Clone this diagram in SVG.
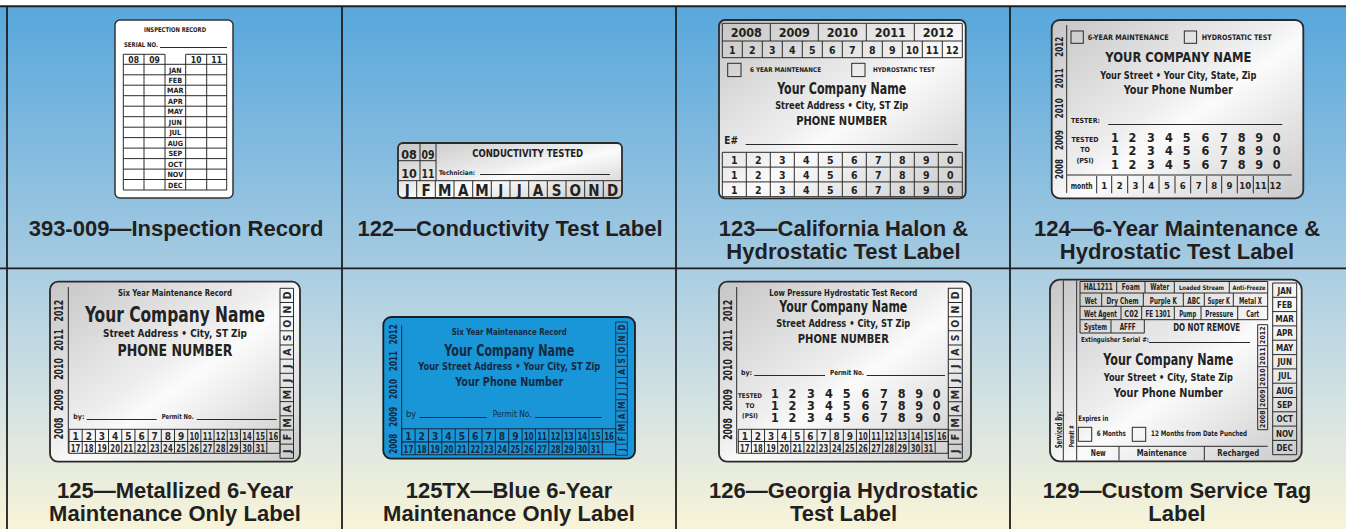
<svg xmlns="http://www.w3.org/2000/svg" width="1346" height="529" viewBox="0 0 1346 529">
<defs>
<linearGradient id="bgTop" x1="0" y1="0" x2="0" y2="1"><stop offset="0" stop-color="#56a6dc"/><stop offset="1" stop-color="#a6cbe1"/></linearGradient>
<linearGradient id="bgBot" x1="0" y1="0" x2="0" y2="1"><stop offset="0" stop-color="#a9cde3"/><stop offset="0.55" stop-color="#d6e3e2"/><stop offset="1" stop-color="#f8f4d8"/></linearGradient>
<linearGradient id="silver" x1="0" y1="0" x2="1" y2="1"><stop offset="0" stop-color="#c6c6c6"/><stop offset="0.45" stop-color="#eeeeee"/><stop offset="0.55" stop-color="#fbfbfb"/><stop offset="1" stop-color="#c9c9c9"/></linearGradient>
<style>
.bd{stroke:#2a2a2a;stroke-width:1.8}
.sv{fill:url(#silver)}
.ln{fill:none;stroke:#2a2a2a;stroke-width:1}
.t{font-family:"Liberation Sans Narrow","DejaVu Sans Condensed","Liberation Sans",sans-serif;font-weight:bold;fill:#222}
.c{text-anchor:middle}
.cap{font-family:"Liberation Sans",Arial,sans-serif;font-weight:bold;font-size:22px;fill:#231f20;text-anchor:middle}
.cell{fill:none;stroke:#1f1f1f;stroke-width:1.8}
</style>
<g id="daygrid">
<path fill="none" stroke="currentColor" stroke-width="1" d="M0 0H211V24H0Z M0 12.2H211 M13.19 0V24M26.38 0V24M39.56 0V24M52.75 0V24M65.94 0V24M79.13 0V24M92.31 0V24M105.5 0V24M118.69 0V24M131.88 0V24M145.06 0V24M158.25 0V24M171.44 0V24M184.63 0V24M197.81 0V24"/>
<g font-family="'Liberation Sans Narrow','DejaVu Sans Condensed','Liberation Sans',sans-serif" font-weight="bold" font-size="10" text-anchor="middle" fill="currentColor">
<text x="6.59" y="10.4">1</text><text x="19.78" y="10.4">2</text><text x="32.97" y="10.4">3</text><text x="46.16" y="10.4">4</text><text x="59.34" y="10.4">5</text><text x="72.53" y="10.4">6</text><text x="85.72" y="10.4">7</text><text x="98.91" y="10.4">8</text><text x="112.09" y="10.4">9</text><text x="125.28" y="10.4" textLength="9.6" lengthAdjust="spacingAndGlyphs">10</text><text x="138.47" y="10.4" textLength="9.6" lengthAdjust="spacingAndGlyphs">11</text><text x="151.66" y="10.4" textLength="9.6" lengthAdjust="spacingAndGlyphs">12</text><text x="164.84" y="10.4" textLength="9.6" lengthAdjust="spacingAndGlyphs">13</text><text x="178.03" y="10.4" textLength="9.6" lengthAdjust="spacingAndGlyphs">14</text><text x="191.22" y="10.4" textLength="9.6" lengthAdjust="spacingAndGlyphs">15</text><text x="204.41" y="10.4" textLength="9.6" lengthAdjust="spacingAndGlyphs">16</text>
<text x="6.59" y="22.4" textLength="9.6" lengthAdjust="spacingAndGlyphs">17</text><text x="19.78" y="22.4" textLength="9.6" lengthAdjust="spacingAndGlyphs">18</text><text x="32.97" y="22.4" textLength="9.6" lengthAdjust="spacingAndGlyphs">19</text><text x="46.16" y="22.4" textLength="9.6" lengthAdjust="spacingAndGlyphs">20</text><text x="59.34" y="22.4" textLength="9.6" lengthAdjust="spacingAndGlyphs">21</text><text x="72.53" y="22.4" textLength="9.6" lengthAdjust="spacingAndGlyphs">22</text><text x="85.72" y="22.4" textLength="9.6" lengthAdjust="spacingAndGlyphs">23</text><text x="98.91" y="22.4" textLength="9.6" lengthAdjust="spacingAndGlyphs">24</text><text x="112.09" y="22.4" textLength="9.6" lengthAdjust="spacingAndGlyphs">25</text><text x="125.28" y="22.4" textLength="9.6" lengthAdjust="spacingAndGlyphs">26</text><text x="138.47" y="22.4" textLength="9.6" lengthAdjust="spacingAndGlyphs">27</text><text x="151.66" y="22.4" textLength="9.6" lengthAdjust="spacingAndGlyphs">28</text><text x="164.84" y="22.4" textLength="9.6" lengthAdjust="spacingAndGlyphs">29</text><text x="178.03" y="22.4" textLength="9.6" lengthAdjust="spacingAndGlyphs">30</text><text x="191.22" y="22.4" textLength="9.6" lengthAdjust="spacingAndGlyphs">31</text>
</g>
</g>
<g id="mcol">
<path fill="none" stroke="currentColor" stroke-width="1" d="M0 0H13.5V170H0Z M0 14.17H13.5M0 28.33H13.5M0 42.5H13.5M0 56.67H13.5M0 70.83H13.5M0 85H13.5M0 99.17H13.5M0 113.33H13.5M0 127.5H13.5M0 141.67H13.5M0 155.83H13.5"/>
<g font-family="'Liberation Sans Narrow','DejaVu Sans Condensed','Liberation Sans',sans-serif" font-weight="bold" font-size="10.5" text-anchor="middle" fill="currentColor">
<text transform="translate(10.5 7.08) rotate(-90)">D</text><text transform="translate(10.5 21.25) rotate(-90)">N</text><text transform="translate(10.5 35.42) rotate(-90)">O</text><text transform="translate(10.5 49.58) rotate(-90)">S</text><text transform="translate(10.5 63.75) rotate(-90)">A</text><text transform="translate(10.5 77.92) rotate(-90)">J</text><text transform="translate(10.5 92.08) rotate(-90)">J</text><text transform="translate(10.5 106.25) rotate(-90)">M</text><text transform="translate(10.5 120.42) rotate(-90)">A</text><text transform="translate(10.5 134.58) rotate(-90)">M</text><text transform="translate(10.5 148.75) rotate(-90)">F</text><text transform="translate(10.5 162.92) rotate(-90)">J</text>
</g>
</g>
<g id="dig" class="t c" font-size="12.5">
<text x="0">1</text><text x="17.5">2</text><text x="35.85">3</text><text x="54">4</text><text x="71.7">5</text><text x="90.35">6</text><text x="108.8">7</text><text x="126.65">8</text><text x="144.15">9</text><text x="161.7">0</text>
</g>
<g id="dig3" class="t c" font-size="10.5">
<text x="0">1</text><text x="24">2</text><text x="48">3</text><text x="72">4</text><text x="96">5</text><text x="120">6</text><text x="144">7</text><text x="168">8</text><text x="192">9</text><text x="216">0</text>
</g>
</defs>

<!-- background -->
<rect x="0" y="0" width="1346" height="268" fill="url(#bgTop)"/>
<rect x="0" y="268" width="1346" height="261" fill="url(#bgBot)"/>
<rect x="0" y="0" width="1346" height="5" fill="#ffffff"/>
<g id="frame" class="cell">
<path d="M0 6.3H1346 M7 6.3V529 M342 6.3V529 M676 6.3V529 M1010 6.3V529 M0 268.3H1346"/>
</g>

<!-- 393-009 -->
<g id="n393">
<rect x="115" y="20" width="118" height="178" rx="5" fill="#ffffff" stroke="#333" stroke-width="1.5"/>
<text class="t c" x="175" y="32" font-size="6.5" textLength="62" lengthAdjust="spacingAndGlyphs">INSPECTION RECORD</text>
<text class="t" x="124" y="47" font-size="6.5" textLength="34" lengthAdjust="spacingAndGlyphs">SERIAL NO.</text>
<path class="ln" d="M160 47.5H227"/>
<path class="ln" d="M123.3 54.3H165M185.7 54.3H226.7 M123.3 64.3H226.7 M123.3 74.8H226.7 M123.3 85.2H226.7 M123.3 95.7H226.7 M123.3 106.2H226.7 M123.3 116.7H226.7 M123.3 127.2H226.7 M123.3 137.6H226.7 M123.3 148.1H226.7 M123.3 158.6H226.7 M123.3 169.1H226.7 M123.3 179.5H226.7 M123.3 190H226.7 M123.3 54.3V190M144 54.3V190M165 54.3V190M185.7 54.3V190M206.7 54.3V190M226.7 54.3V190"/>
<g class="t c" font-size="8.5">
<text x="133.7" y="62.8">08</text><text x="154.5" y="62.8">09</text><text x="196.2" y="62.8">10</text><text x="216.7" y="62.8">11</text>
</g>
<g class="t c" font-size="7.2">
<text x="175.3" y="72.5">JAN</text><text x="175.3" y="83">FEB</text><text x="175.3" y="93.4">MAR</text><text x="175.3" y="103.9">APR</text><text x="175.3" y="114.4">MAY</text><text x="175.3" y="124.9">JUN</text><text x="175.3" y="135.4">JUL</text><text x="175.3" y="145.8">AUG</text><text x="175.3" y="156.3">SEP</text><text x="175.3" y="166.8">OCT</text><text x="175.3" y="177.3">NOV</text><text x="175.3" y="187.7">DEC</text>
</g>
</g>

<!-- 122 -->
<g id="n122">
<rect class="sv bd" x="398" y="143" width="224" height="55" rx="5"/>
<path class="ln" d="M420 143V180.7 M436 143V180.7 M398 160.7H436 M398 180.7H622 M416.7 180.7V198 M435.3 180.7V198 M454 180.7V198 M472.7 180.7V198 M491.3 180.7V198 M510 180.7V198 M528.7 180.7V198 M547.3 180.7V198 M566 180.7V198 M584.7 180.7V198 M603.3 180.7V198"/>
<g class="t c" font-size="12.5">
<text x="409" y="158.5">08</text><text x="428" y="158.5" textLength="13" lengthAdjust="spacingAndGlyphs">09</text><text x="409" y="178">10</text><text x="428" y="178" textLength="13" lengthAdjust="spacingAndGlyphs">11</text>
</g>
<text class="t c" x="527.7" y="157" font-size="11" textLength="111" lengthAdjust="spacingAndGlyphs">CONDUCTIVITY TESTED</text>
<text class="t" x="439" y="175" font-size="6.5" textLength="36" lengthAdjust="spacingAndGlyphs">Technician:</text>
<path class="ln" d="M480 174.5H610"/>
<g class="t c" font-size="15">
<text x="407.3" y="195.5">J</text><text x="426" y="195.5">F</text><text x="444.7" y="195.5">M</text><text x="463.3" y="195.5">A</text><text x="482" y="195.5">M</text><text x="500.7" y="195.5">J</text><text x="519.3" y="195.5">J</text><text x="538" y="195.5">A</text><text x="556.7" y="195.5">S</text><text x="575.3" y="195.5">O</text><text x="594" y="195.5">N</text><text x="612.7" y="195.5">D</text>
</g>
</g>

<!-- 123 -->
<g id="n123">
<rect class="sv bd" x="719" y="20" width="246.7" height="178.3" rx="6"/>
<path class="ln" d="M722.3 23.3H962.3V57.7H722.3Z M722.3 41H962.3 M770.3 23.3V41 M818.3 23.3V41 M866.3 23.3V41 M914.3 23.3V41 M742.3 41V57.7 M762.3 41V57.7 M782.3 41V57.7 M802.3 41V57.7 M822.3 41V57.7 M842.3 41V57.7 M862.3 41V57.7 M882.3 41V57.7 M902.3 41V57.7 M922.3 41V57.7 M942.3 41V57.7"/>
<g class="t c" font-size="12.5">
<text x="746.3" y="36.8">2008</text><text x="794.3" y="36.8">2009</text><text x="842.3" y="36.8">2010</text><text x="890.3" y="36.8">2011</text><text x="938.3" y="36.8">2012</text>
</g>
<g class="t c" font-size="10.5">
<text x="732.3" y="53.8">1</text><text x="752.3" y="53.8">2</text><text x="772.3" y="53.8">3</text><text x="792.3" y="53.8">4</text><text x="812.3" y="53.8">5</text><text x="832.3" y="53.8">6</text><text x="852.3" y="53.8">7</text><text x="872.3" y="53.8">8</text><text x="892.3" y="53.8">9</text><text x="912.3" y="53.8">10</text><text x="932.3" y="53.8">11</text><text x="952.3" y="53.8">12</text>
</g>
<rect class="ln" x="727.7" y="63.3" width="13.3" height="13.3"/>
<text class="t" x="750" y="72.3" font-size="6.5" textLength="71" lengthAdjust="spacingAndGlyphs">6 YEAR MAINTENANCE</text>
<rect class="ln" x="851.7" y="63.3" width="13.3" height="13.3"/>
<text class="t" x="873" y="72.3" font-size="6.5" textLength="62" lengthAdjust="spacingAndGlyphs">HYDROSTATIC TEST</text>
<text class="t c" x="841.7" y="94.3" font-size="15.5" textLength="129" lengthAdjust="spacingAndGlyphs">Your Company Name</text>
<text class="t c" x="841.7" y="109.3" font-size="10.5" textLength="133" lengthAdjust="spacingAndGlyphs">Street Address • City, ST Zip</text>
<text class="t c" x="841.7" y="125" font-size="12.5" textLength="91" lengthAdjust="spacingAndGlyphs">PHONE NUMBER</text>
<text class="t" x="724.3" y="144.3" font-size="10">E#</text>
<path class="ln" d="M745.7 144.5H957.7"/>
<path class="ln" d="M722.3 152.3H962.3V196.7H722.3Z M722.3 167.1H962.3 M722.3 181.9H962.3 M746.3 152.3V196.7M770.3 152.3V196.7M794.3 152.3V196.7M818.3 152.3V196.7M842.3 152.3V196.7M866.3 152.3V196.7M890.3 152.3V196.7M914.3 152.3V196.7M938.3 152.3V196.7"/>
<use href="#dig3" x="734.3" y="164"/>
<use href="#dig3" x="734.3" y="178.8"/>
<use href="#dig3" x="734.3" y="193.6"/>
</g>

<!-- 124 -->
<g id="n124">
<rect class="sv bd" x="1051.7" y="20" width="251.6" height="178.3" rx="8"/>
<path class="ln" d="M1066.7 25V193 M1066.7 175H1291.7 M1096.7 176V193.3M1111.7 176V193.3M1127.7 176V193.3M1143.3 176V193.3M1159 176V193.3M1175 176V193.3M1190.7 176V193.3M1206.7 176V193.3M1221.7 176V193.3M1237.3 176V193.3M1253.3 176V193.3M1268.3 176V193.3 M1108.3 124.5H1282.3"/>
<g class="t c" font-size="11">
<text transform="translate(1063.3 46.7) rotate(-90)" textLength="20" lengthAdjust="spacingAndGlyphs">2012</text>
<text transform="translate(1063.3 78.3) rotate(-90)" textLength="20" lengthAdjust="spacingAndGlyphs">2011</text>
<text transform="translate(1063.3 108.3) rotate(-90)" textLength="20" lengthAdjust="spacingAndGlyphs">2010</text>
<text transform="translate(1063.3 140) rotate(-90)" textLength="20" lengthAdjust="spacingAndGlyphs">2009</text>
<text transform="translate(1063.3 169) rotate(-90)" textLength="20" lengthAdjust="spacingAndGlyphs">2008</text>
</g>
<rect class="ln" x="1071" y="31" width="12.3" height="12.3"/>
<text class="t" x="1087.7" y="40" font-size="7.5" textLength="81" lengthAdjust="spacingAndGlyphs">6-YEAR MAINTENANCE</text>
<rect class="ln" x="1184.3" y="31" width="12.3" height="12.3"/>
<text class="t" x="1201.7" y="40" font-size="7.5" textLength="70" lengthAdjust="spacingAndGlyphs">HYDROSTATIC TEST</text>
<text class="t c" x="1178.3" y="61.7" font-size="14.5" textLength="146" lengthAdjust="spacingAndGlyphs">YOUR COMPANY NAME</text>
<text class="t c" x="1178.3" y="79.3" font-size="10.5" textLength="156" lengthAdjust="spacingAndGlyphs">Your Street • Your City, State, Zip</text>
<text class="t c" x="1178.3" y="94.3" font-size="12.5" textLength="109" lengthAdjust="spacingAndGlyphs">Your Phone Number</text>
<text class="t" x="1071" y="123.3" font-size="7" textLength="29" lengthAdjust="spacingAndGlyphs">TESTER:</text>
<g class="t c" font-size="7">
<text x="1085" y="141.7" textLength="27" lengthAdjust="spacingAndGlyphs">TESTED</text><text x="1085" y="152.3">TO</text><text x="1085" y="162.7">(PSI)</text>
</g>
<use href="#dig" x="1115" y="141.7"/>
<use href="#dig" x="1115" y="155"/>
<use href="#dig" x="1115" y="169.3"/>
<g class="t c" font-size="9.5">
<text x="1081.7" y="189" font-size="8" textLength="22" lengthAdjust="spacingAndGlyphs">month</text>
<text x="1104.2" y="189">1</text><text x="1119.7" y="189">2</text><text x="1135.5" y="189">3</text><text x="1151.2" y="189">4</text><text x="1167" y="189">5</text><text x="1182.8" y="189">6</text><text x="1198.7" y="189">7</text><text x="1214.2" y="189">8</text><text x="1229.5" y="189">9</text><text x="1245.3" y="189">10</text><text x="1260.8" y="189">11</text><text x="1275.5" y="189">12</text>
</g>
</g>

<!-- 125 -->
<g id="n125">
<rect class="sv bd" x="50" y="281.7" width="250" height="180" rx="8"/>
<path class="ln" d="M68.3 287V453.3 M86.7 419.5H156.7 M196.7 419.5H276.7"/>
<g class="t c" font-size="12.5">
<text transform="translate(63.3 310.7) rotate(-90)" textLength="21.7" lengthAdjust="spacingAndGlyphs">2012</text>
<text transform="translate(63.3 340) rotate(-90)" textLength="21.7" lengthAdjust="spacingAndGlyphs">2011</text>
<text transform="translate(63.3 369) rotate(-90)" textLength="21.7" lengthAdjust="spacingAndGlyphs">2010</text>
<text transform="translate(63.3 400) rotate(-90)" textLength="21.7" lengthAdjust="spacingAndGlyphs">2009</text>
<text transform="translate(63.3 428.3) rotate(-90)" textLength="21.7" lengthAdjust="spacingAndGlyphs">2008</text>
</g>
<text class="t c" x="175" y="296" font-size="8" textLength="114" lengthAdjust="spacingAndGlyphs">Six Year Maintenance Record</text>
<text class="t c" x="175" y="321.7" font-size="22" textLength="180" lengthAdjust="spacingAndGlyphs">Your Company Name</text>
<text class="t c" x="175" y="337.3" font-size="11" textLength="144" lengthAdjust="spacingAndGlyphs">Street Address • City, ST Zip</text>
<text class="t c" x="175" y="356" font-size="15" textLength="115" lengthAdjust="spacingAndGlyphs">PHONE NUMBER</text>
<text class="t" x="73.3" y="419.3" font-size="7">by:</text>
<text class="t" x="161.7" y="419.3" font-size="7" textLength="32" lengthAdjust="spacingAndGlyphs">Permit No.</text>
<use href="#daygrid" x="69" y="429.3" color="#2a2a2a"/>
<use href="#mcol" x="280" y="288.3" color="#2a2a2a"/>
</g>

<!-- 125TX -->
<g id="n125tx">
<rect x="383.3" y="317" width="251.7" height="141.7" rx="8" fill="#1896d7" stroke="#1d1d1d" stroke-width="1.8"/>
<path fill="none" stroke="#17304d" stroke-width="1" d="M401.7 325.3V455.3 M419.3 417.5H486.7 M535 417.5H601.7"/>
<g class="t c" font-size="11" style="fill:#17283f">
<text transform="translate(396.7 334.3) rotate(-90)" textLength="20" lengthAdjust="spacingAndGlyphs">2012</text>
<text transform="translate(396.7 361) rotate(-90)" textLength="20" lengthAdjust="spacingAndGlyphs">2011</text>
<text transform="translate(396.7 389) rotate(-90)" textLength="20" lengthAdjust="spacingAndGlyphs">2010</text>
<text transform="translate(396.7 416.7) rotate(-90)" textLength="20" lengthAdjust="spacingAndGlyphs">2009</text>
<text transform="translate(396.7 443.7) rotate(-90)" textLength="20" lengthAdjust="spacingAndGlyphs">2008</text>
</g>
<g class="t c" style="fill:#17283f">
<text x="509.3" y="335.3" font-size="8" textLength="115" lengthAdjust="spacingAndGlyphs">Six Year Maintenance Record</text>
<text x="509.3" y="356" font-size="15" textLength="130" lengthAdjust="spacingAndGlyphs">Your Company Name</text>
<text x="509.3" y="370.3" font-size="10.5" textLength="182" lengthAdjust="spacingAndGlyphs">Your Street Address • Your City, ST Zip</text>
<text x="509.3" y="386" font-size="12.5" textLength="108" lengthAdjust="spacingAndGlyphs">Your Phone Number</text>
</g>
<text x="406" y="417" font-size="9" font-family="'Liberation Sans Narrow','DejaVu Sans Condensed','Liberation Sans',sans-serif" fill="#17283f">by</text>
<text x="492.7" y="417" font-size="9" font-family="'Liberation Sans Narrow','DejaVu Sans Condensed','Liberation Sans',sans-serif" fill="#17283f" textLength="39" lengthAdjust="spacingAndGlyphs">Permit No.</text>
<use href="#daygrid" transform="translate(401.7 428.7) scale(1.0142 1.0833)" color="#17283f"/>
<use href="#mcol" transform="translate(615.7 322) scale(0.859 0.784)" color="#17283f"/>
</g>

<!-- 126 -->
<g id="n126">
<rect class="sv bd" x="719" y="281.7" width="252" height="180" rx="8"/>
<path class="ln" d="M736.7 287V453.3 M754.3 375.5H825 M866.7 375.5H945"/>
<g class="t c" font-size="12.5">
<text transform="translate(732.3 310.7) rotate(-90)" textLength="21.7" lengthAdjust="spacingAndGlyphs">2012</text>
<text transform="translate(732.3 340.5) rotate(-90)" textLength="21.7" lengthAdjust="spacingAndGlyphs">2011</text>
<text transform="translate(732.3 370) rotate(-90)" textLength="21.7" lengthAdjust="spacingAndGlyphs">2010</text>
<text transform="translate(732.3 400) rotate(-90)" textLength="21.7" lengthAdjust="spacingAndGlyphs">2009</text>
<text transform="translate(732.3 429) rotate(-90)" textLength="21.7" lengthAdjust="spacingAndGlyphs">2008</text>
</g>
<text class="t c" x="843.3" y="296" font-size="8" textLength="148" lengthAdjust="spacingAndGlyphs">Low Pressure Hydrostatic Test Record</text>
<text class="t c" x="843.3" y="311.7" font-size="15.5" textLength="128" lengthAdjust="spacingAndGlyphs">Your Company Name</text>
<text class="t c" x="843.3" y="326.7" font-size="10.5" textLength="134" lengthAdjust="spacingAndGlyphs">Street Address • City, ST Zip</text>
<text class="t c" x="843.3" y="343.3" font-size="12.5" textLength="91" lengthAdjust="spacingAndGlyphs">PHONE NUMBER</text>
<text class="t" x="741" y="375" font-size="7">by:</text>
<text class="t" x="830" y="375" font-size="7" textLength="34" lengthAdjust="spacingAndGlyphs">Permit No.</text>
<g class="t c" font-size="6.5">
<text x="750" y="398.3" textLength="24" lengthAdjust="spacingAndGlyphs">TESTED</text><text x="750" y="408.3">TO</text><text x="750" y="417.7">(PSI)</text>
</g>
<use href="#dig" x="775" y="398.3"/>
<use href="#dig" x="775" y="410"/>
<use href="#dig" x="775" y="421.7"/>
<use href="#daygrid" transform="translate(738.3 429.3) scale(0.9953 1)" color="#2a2a2a"/>
<use href="#mcol" transform="translate(948.3 288.3) scale(1.037 1)" color="#2a2a2a"/>
</g>

<!-- 129 -->
<g id="n129">
<rect class="sv bd" x="1050" y="279.7" width="251.7" height="181.6" rx="10"/>
<path class="ln" d="M1080 281.5H1267.7V319.7 M1080 281.5V333H1144.3V319.7 M1080 293H1267.7 M1080 306.3H1267.7 M1080 319.7H1267.7 M1116.7 281.5V293 M1145 281.5V293 M1174.3 281.5V293 M1229.3 281.5V293 M1101.7 293V306.3 M1143.3 293V306.3 M1183.3 293V306.3 M1204.3 293V306.3 M1233.3 293V306.3 M1121 306.3V319.7 M1141.7 306.3V319.7 M1174.3 306.3V319.7 M1201 306.3V319.7 M1237.7 306.3V319.7 M1111 319.7V333 M1063.3 280.5V460.5 M1076.7 280.5V460.5 M1076.7 446.3H1267.7 M1119 446.3V460.5 M1204.3 446.3V460.5 M1257.7 324.7H1267.7V429.7H1257.7Z M1257.7 345.7H1267.7 M1257.7 366.7H1267.7 M1257.7 387.7H1267.7 M1257.7 408.7H1267.7 M1272.7 283H1296.7V454.7H1272.7Z M1272.7 297.3H1296.7M1272.7 311.6H1296.7M1272.7 325.9H1296.7M1272.7 340.2H1296.7M1272.7 354.6H1296.7M1272.7 368.9H1296.7M1272.7 383.2H1296.7M1272.7 397.5H1296.7M1272.7 411.8H1296.7M1272.7 426.1H1296.7M1272.7 440.4H1296.7 M1149 342.5H1250"/>
<g class="t c" font-size="8">
<text x="1098.3" y="290" textLength="29" lengthAdjust="spacingAndGlyphs">HAL1211</text><text x="1130.8" y="290" textLength="18" lengthAdjust="spacingAndGlyphs">Foam</text><text x="1159.7" y="290" textLength="19" lengthAdjust="spacingAndGlyphs">Water</text><text x="1201.5" y="290" font-size="6.3" textLength="45" lengthAdjust="spacingAndGlyphs">Loaded Stream</text><text x="1249" y="290" font-size="6.3" textLength="33" lengthAdjust="spacingAndGlyphs">Anti-Freeze</text>
<text x="1090.8" y="303.5" textLength="12" lengthAdjust="spacingAndGlyphs">Wet</text><text x="1122.5" y="303.5" textLength="32" lengthAdjust="spacingAndGlyphs">Dry Chem</text><text x="1163.3" y="303.5" textLength="27" lengthAdjust="spacingAndGlyphs">Purple K</text><text x="1193.8" y="303.5" textLength="13" lengthAdjust="spacingAndGlyphs">ABC</text><text x="1218.8" y="303.5" textLength="22" lengthAdjust="spacingAndGlyphs">Super K</text><text x="1250.5" y="303.5" textLength="23" lengthAdjust="spacingAndGlyphs">Metal X</text>
<text x="1100.5" y="316.8" textLength="33" lengthAdjust="spacingAndGlyphs">Wet Agent</text><text x="1131.3" y="316.8" textLength="14" lengthAdjust="spacingAndGlyphs">C02</text><text x="1158" y="316.8" textLength="25" lengthAdjust="spacingAndGlyphs">FE 1301</text><text x="1187.7" y="316.8" textLength="17" lengthAdjust="spacingAndGlyphs">Pump</text><text x="1219.3" y="316.8" textLength="28" lengthAdjust="spacingAndGlyphs">Pressure</text><text x="1252.7" y="316.8" textLength="13" lengthAdjust="spacingAndGlyphs">Cart</text>
<text x="1095.5" y="330" textLength="23" lengthAdjust="spacingAndGlyphs">System</text><text x="1127.7" y="330" textLength="16" lengthAdjust="spacingAndGlyphs">AFFF</text>
</g>
<text class="t c" x="1206.7" y="331.3" font-size="10" textLength="67" lengthAdjust="spacingAndGlyphs">DO NOT REMOVE</text>
<text class="t" x="1081" y="342" font-size="7" textLength="68" lengthAdjust="spacingAndGlyphs">Extinguisher Serial #:</text>
<text class="t c" x="1168.3" y="365.3" font-size="15.5" textLength="130" lengthAdjust="spacingAndGlyphs">Your Company Name</text>
<text class="t c" x="1168.3" y="380.7" font-size="11" textLength="129" lengthAdjust="spacingAndGlyphs">Your Street • City, State Zip</text>
<text class="t c" x="1168.3" y="397.3" font-size="13" textLength="109" lengthAdjust="spacingAndGlyphs">Your Phone Number</text>
<text class="t" x="1078.3" y="420.7" font-size="7.5" textLength="30" lengthAdjust="spacingAndGlyphs">Expires in</text>
<rect class="ln" x="1078.3" y="427.3" width="13.4" height="14"/>
<text class="t" x="1096.7" y="436.3" font-size="7.5" textLength="29" lengthAdjust="spacingAndGlyphs">6 Months</text>
<rect class="ln" x="1132.3" y="427.3" width="13.4" height="14"/>
<text class="t" x="1151" y="436.3" font-size="7.5" textLength="96" lengthAdjust="spacingAndGlyphs">12 Months from Date Punched</text>
<g class="t c" font-size="9">
<text x="1098.3" y="456.3" textLength="15" lengthAdjust="spacingAndGlyphs">New</text>
<text x="1161.7" y="456.3" textLength="50" lengthAdjust="spacingAndGlyphs">Maintenance</text>
<text x="1238.3" y="456.3" textLength="42" lengthAdjust="spacingAndGlyphs">Recharged</text>
</g>
<text class="t c" font-size="8" transform="translate(1062 429.7) rotate(-90)" textLength="37" lengthAdjust="spacingAndGlyphs">Serviced By:</text>
<text class="t c" font-size="7" transform="translate(1074.3 436.3) rotate(-90)" textLength="22" lengthAdjust="spacingAndGlyphs">Permit #</text>
<g class="t c" font-size="7">
<text transform="translate(1265.3 335.2) rotate(-90)">2012</text>
<text transform="translate(1265.3 356.2) rotate(-90)">2011</text>
<text transform="translate(1265.3 377.2) rotate(-90)">2010</text>
<text transform="translate(1265.3 398.2) rotate(-90)">2009</text>
<text transform="translate(1265.3 419.2) rotate(-90)">2008</text>
</g>
<g class="t c" font-size="8">
<text x="1284.7" y="293.5">JAN</text><text x="1284.7" y="307.8">FEB</text><text x="1284.7" y="322.1">MAR</text><text x="1284.7" y="336.4">APR</text><text x="1284.7" y="350.7">MAY</text><text x="1284.7" y="365.1">JUN</text><text x="1284.7" y="379.4">JUL</text><text x="1284.7" y="393.7">AUG</text><text x="1284.7" y="408">SEP</text><text x="1284.7" y="422.3">OCT</text><text x="1284.7" y="436.6">NOV</text><text x="1284.7" y="450.9">DEC</text>
</g>
</g>

<!-- captions -->
<g id="captions">
<text class="cap" x="176" y="236">393-009—Inspection Record</text>
<text class="cap" x="510" y="236">122—Conductivity Test Label</text>
<text class="cap" x="843.5" y="236">123—California Halon &amp;</text>
<text class="cap" x="843.5" y="259">Hydrostatic Test Label</text>
<text class="cap" x="1177" y="236">124—6-Year Maintenance &amp;</text>
<text class="cap" x="1177" y="259">Hydrostatic Test Label</text>
<text class="cap" x="175" y="498">125—Metallized 6-Year</text>
<text class="cap" x="175" y="521">Maintenance Only Label</text>
<text class="cap" x="509" y="498">125TX—Blue 6-Year</text>
<text class="cap" x="509" y="521">Maintenance Only Label</text>
<text class="cap" x="843.5" y="498">126—Georgia Hydrostatic</text>
<text class="cap" x="843.5" y="521">Test Label</text>
<text class="cap" x="1177" y="498">129—Custom Service Tag</text>
<text class="cap" x="1177" y="521">Label</text>
</g>
</svg>
